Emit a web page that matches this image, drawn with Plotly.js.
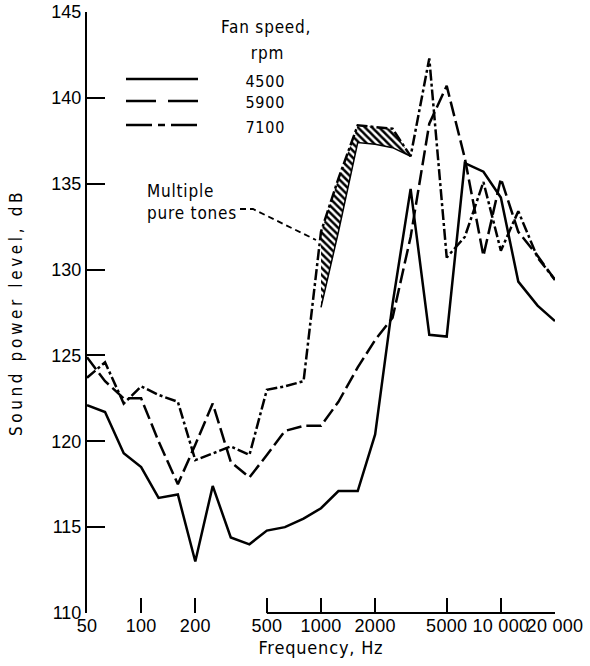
<!DOCTYPE html>
<html>
<head>
<meta charset="utf-8">
<script src="https://cdn.plot.ly/plotly-3.0.1.min.js"></script>
<style>
html,body{margin:0;padding:0;background:#fff;}
#chart{width:590px;height:666px;}
#chart .ytitle{letter-spacing:3.6px;}
#chart .xtitle{letter-spacing:0.8px;}
#chart .annotation-text{letter-spacing:0.8px;}
#chart .xtick text{letter-spacing:0.3px;}
</style>
</head>
<body>
<div id="chart"></div>
<script>
// 1/3-octave band centre frequencies, Hz
const freq = [50,63,80,100,125,160,200,250,315,400,500,630,800,1000,1250,1600,2000,2500,3150,4000,5000,6300,8000,10000,12500,16000,20000];
// Sound power level, dB, per fan speed
const spl4500 = [122.1,121.7,119.3,118.5,116.7,116.9,113.0,117.4,114.4,114.0,114.8,115.0,115.5,116.1,117.1,117.1,120.4,128.0,134.7,126.2,126.1,136.2,135.7,134.2,129.3,127.9,127.0];
const spl5900 = [124.9,123.5,122.5,122.5,120.0,117.5,119.8,122.2,118.8,117.9,119.2,120.6,120.9,120.9,122.3,124.3,125.9,127.2,131.9,138.5,140.7,136.5,130.8,135.3,132.2,130.8,129.4];
const spl7100 = [123.7,124.6,122.2,123.2,122.7,122.3,118.9,119.3,119.7,119.2,123.0,123.2,123.5,132.2,135.3,138.4,138.3,138.2,136.6,142.3,130.7,131.9,135.1,131.1,133.4,130.7,129.4];
// multiple pure tones band (7100 rpm): lower edge of hatched band
const toneFreq = [1000,1250,1600,2000,2500,3150];
const toneLower = [127.8,132.2,137.4,137.3,137.1,136.6];
const toneUpper = toneFreq.map(f => spl7100[freq.indexOf(f)]);
// legend
const speeds = ['4500','5900','7100'];
// axis ticks
const xTickVals = [50,100,200,500,1000,2000,5000,10000,20000];
const xTickText = ['50','100','200','500','1000','2000','5000','10 000','20 000'];
const yTickVals = [110,115,120,125,130,135,140,145];

const W = 590, H = 666;
const M = {l:87, r:35, t:12, b:53};
const PW = W - M.l - M.r, PH = H - M.t - M.b;
const px = x => (x - M.l) / PW;       // pixel -> paper x
const py = y => (H - M.b - y) / PH;   // pixel -> paper y

const FONT = 'Liberation Sans Narrow, Arial Narrow, sans-serif';
const TFONT = 'DejaVu Sans Condensed, DejaVu Sans, sans-serif';

const plotDash = ['solid', '15px,5px', '11px,3px,3px,3px'];
const legDash = ['solid', '30px,12px', '26px,6px,7px,6px'];
const series = [spl4500, spl5900, spl7100];

const traces = [
  {x: toneFreq, y: toneUpper, mode:'lines', line:{width:0, color:'black'}, showlegend:false, hoverinfo:'skip'},
  {x: toneFreq, y: toneLower, mode:'lines', line:{width:1.5, color:'black'}, fill:'tonexty',
   fillcolor:'rgba(0,0,0,0)',
   fillpattern:{shape:'\\', fgcolor:'#000', bgcolor:'rgba(0,0,0,0)', size:5, solidity:0.5},
   showlegend:false, hoverinfo:'skip'}
];
series.forEach((s, i) => {
  traces.push({x: freq, y: s, mode:'lines', name: speeds[i] + ' rpm',
    line:{color:'#000', width:2.5, dash: plotDash[i]}, showlegend:false});
});

const shapes = [];
const annotations = [];
// legend keys
const legY = [79, 101, 125];
speeds.forEach((s, i) => {
  shapes.push({type:'line', xref:'paper', yref:'paper', x0:px(126), x1:px(198), y0:py(legY[i]), y1:py(legY[i]),
    line:{color:'#000', width:2.5, dash: legDash[i]}});
  annotations.push({xref:'paper', yref:'paper', x:px(265), y:py(legY[i]+2), text:s, showarrow:false,
    xanchor:'center', yanchor:'middle', font:{family:TFONT, size:16, color:'#000'}});
});
annotations.push({xref:'paper', yref:'paper', x:px(266), y:py(27), text:'Fan speed,', showarrow:false,
  xanchor:'center', yanchor:'middle', font:{family:TFONT, size:17, color:'#000'}});
annotations.push({xref:'paper', yref:'paper', x:px(267), y:py(53), text:'rpm', showarrow:false,
  xanchor:'center', yanchor:'middle', font:{family:TFONT, size:17, color:'#000'}});
annotations.push({xref:'paper', yref:'paper', x:px(145), y:py(202), text:'Multiple<br>pure tones', showarrow:false,
  xanchor:'left', yanchor:'middle', align:'left', font:{family:TFONT, size:17, color:'#000'}});
// leader line to hatched band
shapes.push({type:'path', xref:'paper', yref:'paper',
  path:'M'+px(240)+','+py(209)+' L'+px(253)+','+py(209)+' L'+px(316)+','+py(240),
  line:{color:'#000', width:1.8, dash:'6px,4px'}});
// partial frequency baseline (500 Hz to 20 000 Hz)
shapes.push({type:'line', xref:'paper', yref:'paper',
  x0:(Math.log10(500)-Math.log10(50))/(Math.log10(20000)-Math.log10(50)), x1:1, y0:0, y1:0,
  line:{color:'#000', width:2}});

const layout = {
  width: W, height: H,
  margin: M,
  paper_bgcolor:'#fff', plot_bgcolor:'#fff',
  showlegend:false,
  xaxis:{type:'log', range:[Math.log10(50), Math.log10(20000)],
    tickvals:xTickVals, ticktext:xTickText, tickangle:0, ticks:'inside', ticklen:15, tickwidth:2, tickcolor:'#000',
    ticklabelstandoff:0,
    showline:false, showgrid:false, zeroline:false,
    tickfont:{family:FONT, size:18, color:'#000'},
    title:{text:'Frequency, Hz', font:{family:TFONT, size:18, color:'#000'}, standoff:6}},
  yaxis:{range:[110,145], tickvals:yTickVals, ticks:'inside', ticklen:18, tickwidth:2, tickcolor:'#000',
    showline:true, linewidth:2, linecolor:'#000', showgrid:false, zeroline:false,
    tickfont:{family:FONT, size:18, color:'#000'},
    title:{text:'Sound power level, dB', font:{family:TFONT, size:17, color:'#000'}, standoff:24}},
  shapes: shapes,
  annotations: annotations
};

Plotly.newPlot('chart', traces, layout, {staticPlot:true, displayModeBar:false});
</script>
</body>
</html>
